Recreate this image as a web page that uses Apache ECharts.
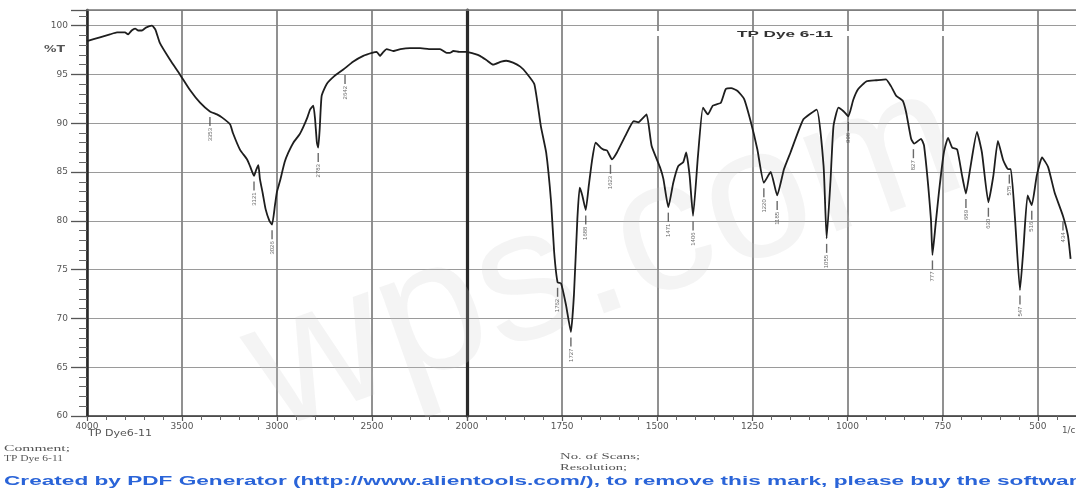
<!DOCTYPE html>
<html><head><meta charset="utf-8">
<script src="https://cdn.jsdelivr.net/npm/echarts@6/dist/echarts.min.js"></script>
<style>html,body{margin:0;padding:0;background:#fff}#c{width:1076px;height:491px}</style>
</head><body><div id="c"></div>
<script>
// ---- data (wavenumber cm-1, %T) ----
const wnL = [4000, 3932, 3879, 3842, 3800, 3784, 3765, 3747, 3730, 3711,
  3690, 3658, 3640, 3616, 3563, 3511, 3458, 3405, 3353, 3316,
  3290, 3247, 3232, 3195, 3158, 3142, 3121, 3110, 3098, 3090,
  3075, 3060, 3040, 3026, 3010, 3000, 2984, 2960, 2940, 2914,
  2880, 2862, 2840, 2826, 2809, 2800, 2790, 2783, 2775, 2765,
  2739, 2700, 2651, 2600, 2546, 2500, 2475, 2458, 2440, 2423,
  2388, 2350, 2300, 2247, 2200, 2142, 2107, 2090, 2072, 2040,
  2000];
const tL = [98.4, 98.8, 99.1, 99.3, 99.3, 99.1, 99.5, 99.7, 99.5, 99.5,
  99.8, 100.0, 99.6, 98.2, 96.5, 95.0, 93.4, 92.1, 91.2, 90.9,
  90.6, 89.9, 89.0, 87.3, 86.3, 85.6, 84.6, 85.2, 85.7, 84.3,
  82.8, 81.2, 80.0, 79.6, 81.7, 83.0, 84.1, 86.0, 87.0, 88.0,
  88.9, 89.6, 90.6, 91.4, 91.8, 90.5, 88.0, 87.5, 89.5, 92.8,
  94.0, 94.8, 95.5, 96.3, 96.9, 97.2, 97.3, 96.9, 97.3, 97.6,
  97.4, 97.6, 97.7, 97.7, 97.6, 97.6, 97.2, 97.2, 97.4, 97.3,
  97.3];
const wnR = [2000, 1980, 1966, 1950, 1931, 1910, 1897, 1879, 1860, 1845,
  1823, 1806, 1792, 1779, 1771, 1762, 1753, 1740, 1727, 1719,
  1710, 1704, 1697, 1688, 1680, 1671, 1662, 1649, 1641, 1632,
  1619, 1606, 1584, 1562, 1549, 1541, 1528, 1515, 1493, 1484,
  1471, 1458, 1445, 1432, 1424, 1415, 1406, 1393, 1380, 1367,
  1354, 1333, 1320, 1306, 1289, 1272, 1254, 1237, 1220, 1202,
  1185, 1167, 1150, 1116, 1081, 1063, 1055, 1045, 1037, 1024,
  1010, 998, 985, 972, 950, 925, 899, 886, 872, 855,
  846, 833, 825, 807, 799, 781, 777, 769, 760, 747,
  736, 725, 712, 699, 689, 678, 660, 647, 630, 617,
  605, 591, 578, 571, 560, 547, 538, 527, 516, 503,
  489, 473, 456, 434, 421, 414];
const tR = [97.3, 97.1, 96.9, 96.5, 96.0, 96.3, 96.4, 96.2, 95.8, 95.2,
  94.0, 89.7, 87.0, 81.9, 76.8, 73.7, 73.6, 71.4, 68.6, 72.4,
  80.2, 83.4, 82.6, 81.1, 83.6, 86.3, 88.0, 87.5, 87.3, 87.2,
  86.3, 87.0, 88.7, 90.2, 90.1, 90.4, 90.9, 87.7, 85.5, 84.3,
  81.4, 83.9, 85.6, 86.0, 87.0, 84.6, 80.5, 86.7, 91.6, 90.9,
  91.8, 92.1, 93.5, 93.6, 93.3, 92.5, 90.1, 87.3, 83.9, 85.0,
  82.6, 85.3, 87.0, 90.4, 91.4, 85.6, 78.2, 84.0, 89.7, 91.6,
  91.2, 90.7, 92.4, 93.5, 94.3, 94.4, 94.5, 93.8, 92.8, 92.3,
  91.1, 88.4, 87.9, 88.4, 87.7, 80.2, 76.5, 79.5, 82.9, 87.0,
  88.5, 87.5, 87.3, 84.6, 82.8, 85.3, 89.1, 87.0, 81.9, 84.6,
  88.2, 86.2, 85.3, 85.3, 80.2, 72.9, 77.1, 82.6, 81.6, 84.6,
  86.5, 85.5, 82.9, 80.5, 78.5, 76.1];
// peak markers
const peakWnL = [3353, 3121, 3026, 2783, 2642];
const peakTL  = [91.2, 84.6, 79.6, 87.5, 95.5];
const peakWnR = [1762, 1727, 1688, 1623, 1471, 1406, 1220, 1185, 1055, 998, 827, 777, 689, 630, 575, 547, 516, 434];
const peakTR  = [73.7, 68.6, 81.1, 86.3, 81.4, 80.5, 83.9, 82.6, 78.2, 90.7, 87.9, 76.5, 82.8, 81.9, 85.3, 72.9, 81.6, 80.5];
// axis ticks
const yMin = 60, yMax = 101.6, yStep = 5;
const xLeftRange = [2000, 4000], xLeftStep = 500;
const xRightRange = [250, 2000], xRightStep = 250;

const title = 'TP Dye 6-11';
const yName = '%T';
const xUnit = '1/cm';
const sampleName = 'TP Dye6-11';
const footLeft = ['Comment;', 'TP Dye 6-11'];
const footMid = ['No. of Scans;', 'Resolution;'];
const banner = 'Created by PDF Generator (http://www.alientools.com/), to remove this mark, please buy the software';

// ---- helpers ----
const mctx = document.createElement('canvas').getContext('2d');
function fitText(text, font, x, y, width, fill, z) {
  mctx.font = font;
  const w = mctx.measureText(text).width;
  return { type: 'text', x: x, y: y, scaleX: width / w, z: z || 10, silent: true,
    style: { text: text, font: font, fill: fill || '#444', x: 0, y: 0, textVerticalAlign: 'top', textAlign: 'left' } };
}

const lineCol = '#1e1e1e';
function yAxis(gridIndex, main) {
  return {
    type: 'value', gridIndex: gridIndex, min: yMin, max: yMax, interval: yStep,
    axisLine: { show: true, lineStyle: { color: '#2a2a2a', width: main ? 2.6 : 3.2 } },
    axisTick: { show: main, length: 16, lineStyle: { color: '#555', width: 1.3 } },
    minorTick: { show: main, splitNumber: 5, length: 8, lineStyle: { color: '#666', width: 1 } },
    axisLabel: { show: main, margin: 19, fontSize: 9, fontFamily: 'DejaVu Sans', color: '#555', showMaxLabel: false,
      formatter: v => (Math.abs(v % yStep) < 1e-6 ? String(v) : '') },
    splitLine: { show: true, lineStyle: { color: '#9a9a9a', width: 1 } }
  };
}
function xAxis(gridIndex, range, step, hide) {
  return {
    type: 'value', gridIndex: gridIndex, min: range[0], max: range[1], interval: step, inverse: true,
    axisLine: { show: true, onZero: false, lineStyle: { color: '#333', width: 1.5 } },
    axisTick: { show: true, length: 5, lineStyle: { color: '#555', width: 1.2 } },
    minorTick: { show: true, splitNumber: 5, length: 4, lineStyle: { color: '#666', width: 1 } },
    axisLabel: { show: true, margin: 6, fontSize: 9, fontFamily: 'DejaVu Sans', color: '#555',
      showMinLabel: true, showMaxLabel: true,
      formatter: v => (hide.indexOf(v) >= 0 ? '' : String(v)) },
    splitLine: { show: true, lineStyle: { color: '#858585', width: 1.8 } }
  };
}
function topAxis(gridIndex, range) {
  return { type: 'value', gridIndex: gridIndex, position: 'top', min: range[0], max: range[1], inverse: true,
    axisLine: { show: true, onZero: false, lineStyle: { color: '#777', width: 1.5 } },
    axisTick: { show: false }, axisLabel: { show: false }, splitLine: { show: false } };
}
function peakSeries(xi, wns, ts) {
  return {
    type: 'scatter', xAxisIndex: xi, yAxisIndex: xi, z: 4,
    data: wns.map((w, i) => [w, ts[i]]),
    symbol: 'rect', symbolSize: [1.4, 9], symbolOffset: [0, 10],
    itemStyle: { color: '#444' },
    label: { show: true, position: 'bottom', distance: 2, rotate: 90, align: 'right', verticalAlign: 'middle',
      fontSize: 6, fontFamily: 'Liberation Sans', color: '#444', formatter: p => String(p.value[0]) },
    emphasis: { disabled: true }, silent: true
  };
}

const chart = echarts.init(document.getElementById('c'), null, { renderer: 'canvas' });
chart.setOption({
  animation: false,
  backgroundColor: '#fff',
  grid: [
    { left: 87, top: 10, width: 380, height: 406, outerBoundsMode: 'none' },
    { left: 467, top: 10, width: 666, height: 406, outerBoundsMode: 'none' }
  ],
  xAxis: [
    xAxis(0, xLeftRange, xLeftStep, []),
    xAxis(1, xRightRange, xRightStep, [2000, 250]),
    topAxis(0, xLeftRange),
    topAxis(1, xRightRange)
  ],
  yAxis: [yAxis(0, true), yAxis(1, false)],
  series: [
    { type: 'line', xAxisIndex: 0, yAxisIndex: 0, z: 5, showSymbol: false, smooth: 0.15,
      data: wnL.map((w, i) => [w, tL[i]]), lineStyle: { color: lineCol, width: 1.8 }, silent: true },
    { type: 'line', xAxisIndex: 1, yAxisIndex: 1, z: 5, showSymbol: false, smooth: 0.15,
      data: wnR.map((w, i) => [w, tR[i]]), lineStyle: { color: lineCol, width: 1.8 }, silent: true },
    peakSeries(0, peakWnL, peakTL),
    peakSeries(1, peakWnR, peakTR)
  ],
  graphic: [
    { type: 'text', x: 605, y: 258, rotation: 0.34, z: 1, silent: true,
      style: { text: 'wps.com', font: 'normal 188px "Liberation Sans"', fill: 'rgba(200,200,200,0.2)',
        textAlign: 'center', textVerticalAlign: 'middle' } },
    { type: 'rect', shape: { x: 652, y: 31, width: 300, height: 5 }, style: { fill: '#fff' }, z: 8, silent: true },
    fitText(title, 'bold 9px "Liberation Sans"', 737, 30, 96, '#333'),
    fitText(yName, 'bold 8px "DejaVu Sans"', 44, 46, 21, '#555'),
    fitText(sampleName, '8px "DejaVu Sans"', 88, 430, 64, '#555'),
    fitText(xUnit, '8px "DejaVu Sans"', 1062, 427, 22, '#555'),
    fitText(footLeft[0], '9px "Liberation Serif"', 4, 444, 66, '#555'),
    fitText(footLeft[1], '9px "Liberation Serif"', 4, 454, 59, '#555'),
    fitText(footMid[0], '9px "Liberation Serif"', 560, 452, 80, '#555'),
    fitText(footMid[1], '9px "Liberation Serif"', 560, 463, 67, '#555'),
    fitText(banner, 'bold 12px "Liberation Sans"', 4, 476, 1086, '#2a64d8')
  ]
});
</script>
</body></html>
